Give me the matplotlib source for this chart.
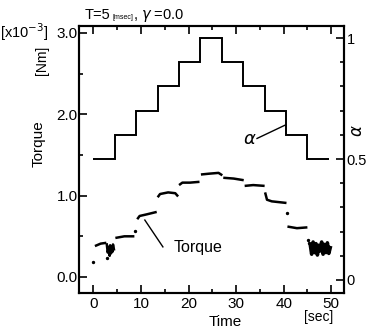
import matplotlib
matplotlib.use("Agg")
import matplotlib.pyplot as plt

plt.rcParams['font.family'] = ['Liberation Sans', 'DejaVu Sans']

# alpha command: step edges [sec] and levels
alpha_edges = [0, 4.5, 9.0, 13.5, 18.0, 22.5, 27.0, 31.5, 36.0, 40.5, 45.0, 49.5]
alpha_levels = [0.5, 0.6, 0.7, 0.8, 0.9, 1.0, 0.9, 0.8, 0.7, 0.6, 0.5]

# measured torque [x10^-3 Nm], one list per plateau
torque_segments = [
    ([0.3, 1.5, 2.7], [0.38, 0.41, 0.42]),
    ([4.6, 6.5, 8.6], [0.48, 0.50, 0.50]),
    ([9.2, 9.7, 11.2, 13.3], [0.71, 0.75, 0.77, 0.80]),
    ([13.5, 14.0, 15.7, 17.2, 17.8], [0.98, 1.02, 1.04, 1.03, 0.99]),
    ([18.0, 18.7, 20.3, 22.3], [1.13, 1.16, 1.16, 1.17]),
    ([22.6, 24.3, 26.3, 27.1], [1.26, 1.27, 1.28, 1.25]),
    ([27.3, 29.5, 31.6], [1.22, 1.21, 1.19]),
    ([31.8, 33.6, 36.0], [1.12, 1.13, 1.12]),
    ([36.1, 36.5, 37.5, 40.6], [1.04, 0.95, 0.93, 0.91]),
    ([40.8, 42.8, 45.0], [0.62, 0.60, 0.61]),
]
# noisy parts
blob1_t = [2.8, 3.0, 3.2, 3.4, 3.5, 3.7, 3.8, 4.0, 4.1, 4.3]
blob1_v = [0.40, 0.30, 0.37, 0.26, 0.39, 0.29, 0.36, 0.31, 0.40, 0.34]
blob2_t = [45.6, 45.9, 46.2, 46.5, 46.8, 47.1, 47.4, 47.7, 48.0, 48.3, 48.6, 48.9, 49.2, 49.5, 49.8]
blob2_v = [0.40, 0.28, 0.43, 0.30, 0.41, 0.27, 0.39, 0.32, 0.43, 0.28, 0.40, 0.30, 0.42, 0.29, 0.36]
stray_t = [0.0, 2.8, 8.7, 40.7, 45.1, 45.4]
stray_v = [0.18, 0.23, 0.56, 0.79, 0.46, 0.42]

W, H = 368, 333
fig = plt.figure(figsize=(W / 100, H / 100), dpi=100)
ax = fig.add_axes([79 / W, 1 - 293 / H, 265 / W, 267 / H])
ax2 = ax.twinx()

for ts, vs in torque_segments:
    ax.plot(ts, vs, color='black', lw=1.8, solid_capstyle='butt')
ax.plot(blob1_t, blob1_v, color='black', lw=1.8)
ax.plot(blob2_t, blob2_v, color='black', lw=2.6)
ax.scatter(stray_t, stray_v, s=2, color='black')

ax2.stairs(alpha_levels, alpha_edges, color='black', lw=1.4, baseline=None)

ax.set_xlim(-3.05, 52.7)
ax.set_ylim(-0.197, 3.086)
ax2.set_ylim(-0.054, 1.05)

ax.set_xticks([0, 10, 20, 30, 40, 50])
ax.set_xticks([5, 15, 25, 35, 45], minor=True)
ax.set_yticks([0.0, 1.0, 2.0, 3.0])
ax.set_yticklabels(['0.0', '1.0', '2.0', '3.0'])
ax.set_yticks([0.5, 1.5, 2.5], minor=True)
ax2.set_yticks([0, 0.5, 1])
ax2.set_yticklabels(['0', '0.5', '1'])
ax2.set_yticks([0.1, 0.2, 0.3, 0.4, 0.6, 0.7, 0.8, 0.9], minor=True)

ax.tick_params(axis='both', which='both', direction='in', labelsize=11, width=1.2)
ax.tick_params(axis='x', which='both', top=True, pad=3)
ax.tick_params(which='major', length=6)
ax.tick_params(which='minor', length=3)
ax.tick_params(axis='y', pad=1)
ax2.tick_params(axis='y', which='both', direction='in', labelsize=10.5, width=1.2, pad=2)
ax2.tick_params(which='major', length=6)
ax2.tick_params(which='minor', length=3)
for a in (ax, ax2):
    for s in a.spines.values():
        s.set_linewidth(1.5)

# annotations
ax.plot([10.8, 14.6], [0.70, 0.37], color='black', lw=1)
ax.text(16.9, 0.357, 'Torque', fontsize=11.5, va='center', ha='left')
ax2.plot([34.4, 40.3], [0.585, 0.64], color='black', lw=1)
ax2.text(32.9, 0.58, r'$\alpha$', fontsize=13, va='center', ha='center')

# outside texts
def ftext(x, y, s, **kw):
    fig.text(x / W, 1 - y / H, s, **kw)

ftext(85, 19, 'T=5', fontsize=10.5, va='baseline', ha='left')
ftext(113, 19, '[msec]', fontsize=5, va='baseline', ha='left')
ftext(133, 19, r', $\gamma$ =0.0', fontsize=10.5, va='baseline', ha='left')
ftext(48, 38, r'[x10$^{-3}$]', fontsize=10.5, va='baseline', ha='right')
ftext(42, 60, '[Nm]', fontsize=10, va='center', ha='center', rotation=90)
ftext(39, 144, 'Torque', fontsize=11, va='center', ha='center', rotation=90)
ftext(358, 131, r'$\alpha$', fontsize=12, va='center', ha='center', rotation=90)
ftext(225, 322, 'Time', fontsize=11, va='center', ha='center')
ftext(319, 317, '[sec]', fontsize=10, va='center', ha='center')

fig.savefig('out.png', dpi=100)
